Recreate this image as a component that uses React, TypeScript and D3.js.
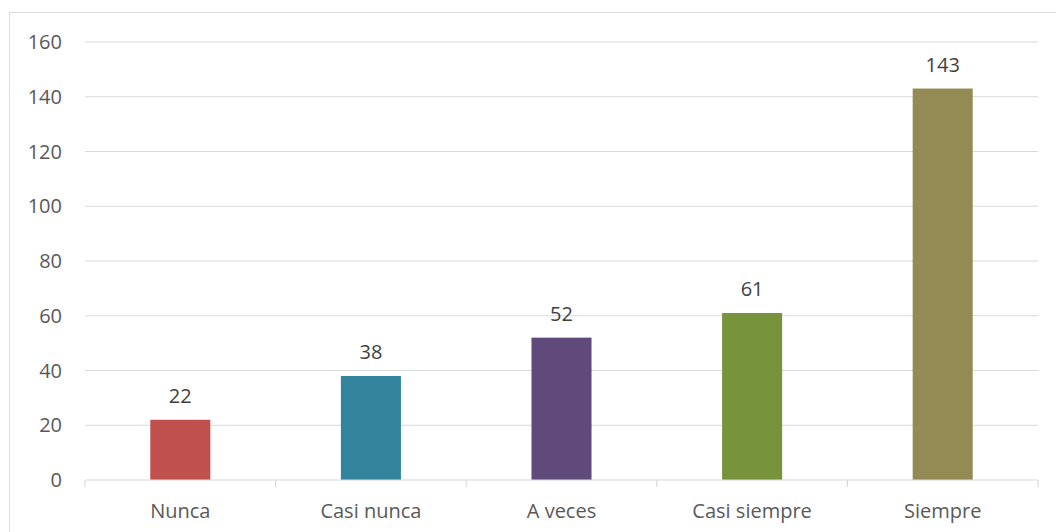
import React from "react";
import * as d3 from "d3";

const categories = ["Nunca", "Casi nunca", "A veces", "Casi siempre", "Siempre"];
const values = [22, 38, 52, 61, 143];
const colors = ["#C0504D", "#31849B", "#604A7B", "#77933C", "#948A54"];
const yTicks = [0, 20, 40, 60, 80, 100, 120, 140, 160];

const W = 1056;
const H = 532;
const plot = { left: 85, right: 1038, top: 42, bottom: 480 };
const FONT = "'Open Sans', sans-serif";

export default function App() {
  const x = d3
    .scaleBand<string>()
    .domain(categories)
    .range([plot.left, plot.right])
    .paddingInner(0.685)
    .paddingOuter(0.3425);
  const y = d3.scaleLinear().domain([0, 160]).range([plot.bottom, plot.top]);
  const band = (plot.right - plot.left) / categories.length;
  const tickXs = d3.range(categories.length + 1).map((i) => plot.left + i * band);

  return (
    <svg
      width={W}
      height={H}
      style={{ position: "fixed", left: 0, top: 0, background: "#fff" }}
      fontFamily={FONT}
    >
      <rect x={9.5} y={12.5} width={W + 10} height={H + 10} fill="#fff" stroke="#D9D9D9" strokeWidth={1} />
      {yTicks.map((t) => (
        <g key={t}>
          {t > 0 && (
            <line x1={plot.left} x2={plot.right} y1={y(t)} y2={y(t)} stroke="#D9D9D9" strokeWidth={1.2} />
          )}
          <text x={62} y={y(t) + 7} textAnchor="end" fontSize={20} fill="#595959">
            {t}
          </text>
        </g>
      ))}
      {categories.map((c, i) => (
        <g key={c}>
          <rect
            x={x(c)}
            y={y(values[i])}
            width={x.bandwidth()}
            height={y(0) - y(values[i])}
            fill={colors[i]}
          />
          <text
            x={(x(c) as number) + x.bandwidth() / 2}
            y={y(values[i]) - 17}
            textAnchor="middle"
            fontSize={20}
            fill="#404040"
          >
            {values[i]}
          </text>
          <text
            x={(x(c) as number) + x.bandwidth() / 2}
            y={518}
            textAnchor="middle"
            fontSize={20}
            fill="#595959"
          >
            {c}
          </text>
        </g>
      ))}
      <line x1={plot.left} x2={plot.right} y1={y(0)} y2={y(0)} stroke="#D9D9D9" strokeWidth={1.2} />
      {tickXs.map((tx, i) => (
        <line key={i} x1={tx} x2={tx} y1={y(0)} y2={y(0) + 7} stroke="#D9D9D9" strokeWidth={1.2} />
      ))}
    </svg>
  );
}
